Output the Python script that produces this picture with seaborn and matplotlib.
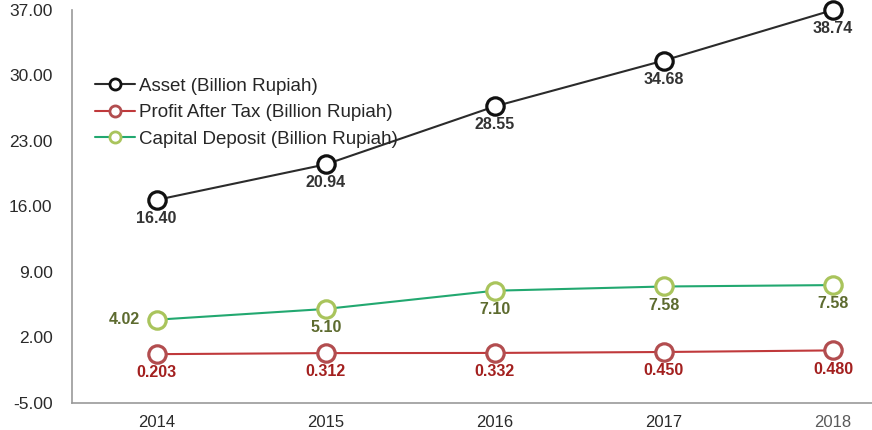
import numpy as np
import pandas as pd
import matplotlib
matplotlib.use("Agg")
import matplotlib.pyplot as plt
import seaborn as sns

# values as drawn on the chart (point positions) and the printed labels
years = ["2014", "2015", "2016", "2017", "2018"]
asset = [16.7, 20.5, 26.7, 31.6, 37.0]
profit = [0.22, 0.33, 0.35, 0.45, 0.62]
capital = [3.9, 5.05, 7.0, 7.45, 7.6]
asset_labels = ["16.40", "20.94", "28.55", "34.68", "38.74"]
profit_labels = ["0.203", "0.312", "0.332", "0.450", "0.480"]
capital_labels = ["4.02", "5.10", "7.10", "7.58", "7.58"]
yticks = [-5, 2, 9, 16, 23, 30, 37]

sns.set_style("white")
plt.rcParams["font.family"] = ["Liberation Sans", "DejaVu Sans"]

fig = plt.figure(figsize=(8.72, 4.30), dpi=100)
ax = fig.add_axes([72 / 872, 0.0628, 800 / 872, 0.914])

x = np.arange(len(years))
series = [
    ("Asset (Billion Rupiah)", asset, asset_labels, "#2b2b2b", "#111111", "#333333"),
    ("Profit After Tax (Billion Rupiah)", profit, profit_labels, "#c0393b", "#b24d4f", "#a3201f"),
    ("Capital Deposit (Billion Rupiah)", capital, capital_labels, "#22a870", "#a9c45c", "#5d6b2f"),
]

for name, vals, labels, lc, mc, tc in series:
    df = pd.DataFrame({"x": x, "y": vals})
    sns.lineplot(data=df, x="x", y="y", ax=ax, color=lc, linewidth=1.5,
                 marker="o", markersize=12.5, markerfacecolor="white",
                 markeredgecolor=mc, markeredgewidth=2.3, label=name, clip_on=False)
    for i, (v, t) in enumerate(zip(vals, labels)):
        if name.startswith("Capital") and i == 0:
            ax.annotate(t, (i, v), xytext=(-12, 0), textcoords="offset points",
                        ha="right", va="center", fontsize=11.5, fontweight="bold", color=tc)
        else:
            ax.annotate(t, (i, v), xytext=(0, -8), textcoords="offset points",
                        ha="center", va="top", fontsize=11.5, fontweight="bold", color=tc)

ax.set_xlim(-0.5, 4.23)
ax.set_ylim(-5, 37)
ax.set_yticks(yticks)
ax.set_yticklabels([f"{v:.2f}" for v in yticks], fontsize=12.5, color="#2a2a2a")
ax.set_xticks(x)
ax.set_xticklabels(years, fontsize=12, color="#2a2a2a")
ax.get_xticklabels()[-1].set_color("#5a5a5a")
ax.set_xticks(np.arange(0.5, 4.0, 1.0), minor=True)
ax.tick_params(axis="x", which="major", length=0, pad=9)
ax.tick_params(axis="x", which="minor", length=5, color="#888888", width=1)
ax.tick_params(axis="y", length=5, color="#888888", width=1, pad=9)
ax.set_xlabel("")
ax.set_ylabel("")

for side in ["top", "right"]:
    ax.spines[side].set_visible(False)
for side in ["left", "bottom"]:
    ax.spines[side].set_color("#999999")
    ax.spines[side].set_linewidth(1.2)

leg = ax.legend(loc="upper left", bbox_to_anchor=(0.029, 0.828), frameon=False,
                fontsize=13.5, handlelength=2.1, handletextpad=0.25,
                labelspacing=0.5, borderaxespad=0, borderpad=0)
for h in leg.legend_handles:
    h.set_markersize(8)
    h.set_markeredgewidth(2)

fig.savefig("out.png", dpi=100)
